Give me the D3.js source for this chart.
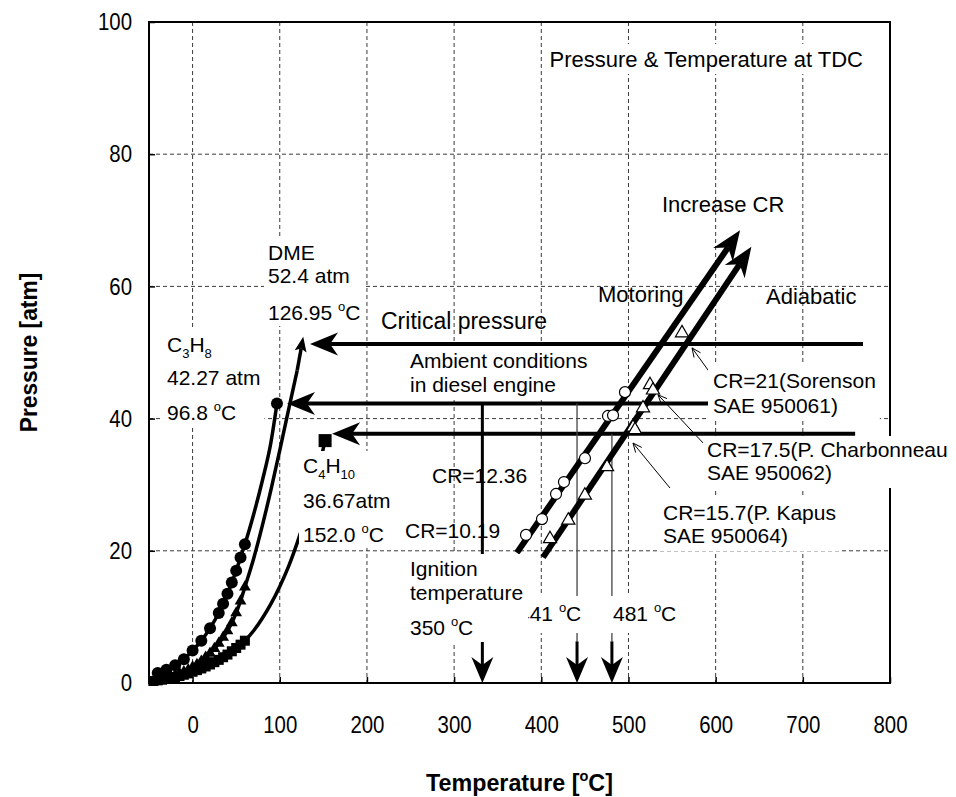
<!DOCTYPE html>
<html>
<head>
<meta charset="utf-8">
<script src="https://cdn.jsdelivr.net/npm/d3@7"></script>
<style>
  html, body { margin: 0; padding: 0; background: #fff; }
  svg { display: block; }
  text { white-space: pre; }
</style>
</head>
<body>
<svg id="chart" width="956" height="797"></svg>
<script>
// ---- axis ticks ----
const xTicks = [0, 100, 200, 300, 400, 500, 600, 700, 800];
const yTicks = [0, 20, 40, 60, 80, 100];

// ---- saturated vapour pressure curves (temperature °C, pressure atm) ----
// propane: points carrying markers, then the upper part of the curve
const c3h8MarkT = [-40, -30, -20, -10, 0, 10, 20, 30, 35, 40, 45, 50, 55, 60];
const c3h8MarkP = [1.5, 2.0, 2.7, 3.6, 4.9, 6.4, 8.3, 10.6, 12.0, 13.5, 15.2, 17.0, 19.0, 21.0];
const c3h8TailT = [70, 80, 90, 96.8];
const c3h8TailP = [25.5, 30.6, 36.5, 42.27];

// dimethyl ether
const dmeMarkT = [-40, -35, -30, -25, -20, -15, -10, -5, 0, 5, 10, 15, 20, 25, 30, 35, 40, 45, 50, 55, 60];
const dmeMarkP = [0.5, 0.65, 0.8, 1.0, 1.2, 1.45, 1.7, 2.0, 2.4, 2.8, 3.3, 3.9, 4.5, 5.2, 6.0, 6.9, 7.9, 9.1, 10.6, 12.4, 14.5];
const dmeTailT = [70, 80, 90, 100, 110, 120, 126.95];
const dmeTailP = [18.8, 23.8, 29.3, 35.2, 41.3, 47.3, 52.4];

// n-butane
const c4h10MarkT = [-45, -40, -35, -30, -25, -20, -15, -10, -5, 0, 5, 10, 15, 20, 25, 30, 35, 40, 45, 50, 55, 60];
const c4h10MarkP = [0.3, 0.4, 0.5, 0.6, 0.75, 0.9, 1.05, 1.25, 1.45, 1.7, 1.95, 2.2, 2.5, 2.8, 3.15, 3.5, 3.9, 4.3, 4.8, 5.3, 5.8, 6.4];
const c4h10TailT = [70, 80, 90, 100, 110, 120, 130, 140, 152.0];
const c4h10TailP = [7.9, 9.8, 12.0, 14.6, 17.6, 21.2, 25.3, 30.0, 36.67];

// critical points
const critNames = ["C3H8", "DME", "C4H10"];
const critT = [96.8, 126.95, 152.0];
const critP = [42.27, 52.4, 36.67];

// horizontal reference arrows (pressure, start temperature, arrow-tip temperature)
const refP     = [51.3, 42.27, 37.7];
const refFromT = [769, 769, 760];
const refTipT  = [134.7, 108.3, 160];

// compression temperature at TDC: motoring and adiabatic lines
const motorT = [372, 628];
const motorP = [19.7, 68.5];
const adiaT  = [402, 641];
const adiaP  = [19.0, 66.0];

// measured TDC states on the motoring line (open circles)
const motorMarkT = [382.5, 400.8, 416.9, 426.0, 450.1, 476.5, 482.3, 496.0];
const motorMarkP = [22.4, 24.8, 28.6, 30.4, 34.0, 40.4, 40.5, 44.0];
// states on the adiabatic line (open triangles)
const adiaMarkT = [410, 431, 450, 475.4, 505.2, 507.5, 516.7, 524.7, 528.1, 561.4];
const adiaMarkP = [21.8, 24.6, 28.4, 32.7, 38.7, 38.3, 41.6, 45.1, 44.3, 52.95];

// vertical temperature markers (°C) and the pressure they drop from
const ambientT = 332.4;        // ignition temperature arrow
const ambientTopP = 42.27;
const dropT = [441, 481];
const dropTopP = [42.27, 37.7];
const arrowStartP = 6.3;       // where the bold arrow part begins

// leader lines from the engine references to their points
const leaderFromT = [597.0, 587.8, 547.6];
const leaderFromP = [46.3, 36.0, 29.5];
const leaderToT   = [572.9, 533.9, 505.2];
const leaderToP   = [50.7, 43.6, 36.3];

// ---------------------------------------------------------------
const FONT = '"Liberation Sans", Arial, Helvetica, sans-serif';
const svg = d3.select("#chart").attr("font-family", FONT);

const x = d3.scaleLinear().domain([-50, 800]).range([149, 890]);
const y = d3.scaleLinear().domain([0, 100]).range([683, 22]);

const zip = (a, b) => a.map((v, i) => [v, b[i]]);
const TICK_SX = 0.85;   // axis numbers are set slightly narrow

// ---- grid ----
const grid = svg.append("g")
  .attr("stroke", "#3a3a3a").attr("stroke-width", 1).attr("stroke-dasharray", "4,3");
grid.selectAll("line.gv").data(xTicks.filter(t => t < 800)).join("line").attr("class", "gv")
  .attr("x1", d => x(d)).attr("x2", d => x(d)).attr("y1", y(100)).attr("y2", y(0));
grid.selectAll("line.gh").data(yTicks.filter(p => p > 0 && p < 100)).join("line").attr("class", "gh")
  .attr("x1", x(-50)).attr("x2", x(800)).attr("y1", d => y(d)).attr("y2", d => y(d));

// ---- axes ----
const xAxis = svg.append("g").attr("transform", `translate(0,${y(0)})`)
  .call(d3.axisBottom(x).tickValues(xTicks).tickSizeInner(-6).tickSizeOuter(0).tickPadding(33));
const yAxis = svg.append("g").attr("transform", `translate(${x(-50)},0)`)
  .call(d3.axisLeft(y).tickValues(yTicks).tickSizeInner(-6).tickSizeOuter(0).tickPadding(17 / TICK_SX));
[xAxis, yAxis].forEach(a => {
  a.select(".domain").remove();
  a.selectAll(".tick line").attr("stroke", "#000").attr("stroke-width", 1.5);
  a.selectAll(".tick text").attr("font-size", 24).attr("font-family", FONT).attr("fill", "#000")
    .attr("transform", `scale(${TICK_SX},1)`);
});

// plot frame
svg.append("rect")
  .attr("x", x(-50)).attr("y", y(100))
  .attr("width", x(800) - x(-50)).attr("height", y(0) - y(100))
  .attr("fill", "none").attr("stroke", "#000").attr("stroke-width", 2);

// axis titles
svg.append("text")
  .attr("transform", `translate(${(x(-50) + x(800)) / 2},791) scale(0.97,1)`)
  .attr("text-anchor", "middle").attr("font-size", 24).attr("font-weight", "bold")
  .call(t => {
    t.append("tspan").text("Temperature [");
    t.append("tspan").text("o").attr("font-size", 15).attr("dy", -10);
    t.append("tspan").text("C]").attr("dy", 10);
  });
svg.append("text")
  .attr("transform", `translate(37,${(y(0) + y(100)) / 2}) rotate(-90) scale(0.95,1)`)
  .attr("text-anchor", "middle").attr("font-size", 24).attr("font-weight", "bold")
  .text("Pressure [atm]");

// ---- helpers ----
function arrow(g, p1, p2, o) {
  const dx = p2[0] - p1[0], dy = p2[1] - p1[1];
  const L = Math.hypot(dx, dy), ux = dx / L, uy = dy / L, nx = -uy, ny = ux;
  const back = o.len - o.notch;
  g.append("line")
    .attr("x1", p1[0]).attr("y1", p1[1])
    .attr("x2", p2[0] - ux * back).attr("y2", p2[1] - uy * back)
    .attr("stroke", o.color || "#000").attr("stroke-width", o.w);
  const bl = [p2[0] - ux * o.len + nx * o.half, p2[1] - uy * o.len + ny * o.half];
  const br = [p2[0] - ux * o.len - nx * o.half, p2[1] - uy * o.len - ny * o.half];
  const nt = [p2[0] - ux * back, p2[1] - uy * back];
  g.append("path").attr("d", `M${p2}L${bl}L${nt}L${br}Z`).attr("fill", o.color || "#000");
}

function openArrow(g, p1, p2, len, half) {
  const dx = p2[0] - p1[0], dy = p2[1] - p1[1];
  const L = Math.hypot(dx, dy), ux = dx / L, uy = dy / L, nx = -uy, ny = ux;
  g.append("line").attr("x1", p1[0]).attr("y1", p1[1]).attr("x2", p2[0]).attr("y2", p2[1]);
  const bl = [p2[0] - ux * len + nx * half, p2[1] - uy * len + ny * half];
  const br = [p2[0] - ux * len - nx * half, p2[1] - uy * len - ny * half];
  g.append("path").attr("d", `M${bl}L${p2}L${br}`).attr("fill", "none");
}

function label(g, x0, lines, opts = {}) {
  const grp = g.append("g");
  const size = opts.size || 21;
  lines.forEach(ln => {
    const t = grp.append("text").attr("x", x0).attr("y", ln.y)
      .attr("font-size", size).attr("text-anchor", opts.anchor || "start").attr("fill", "#000");
    let shift = 0;
    ln.segs.forEach(s => {
      const seg = (typeof s === "string") ? { t: s } : s;
      const want = seg.sup ? -9 : seg.sub ? 6 : 0;
      const ts = t.append("tspan").text(seg.t).attr("dy", want - shift);
      if (seg.sup || seg.sub) ts.attr("font-size", Math.round(size * 0.64));
      shift = want;
    });
  });
  if (opts.box) {
    const b = grp.node().getBBox();
    const p = opts.pad || [3, 4, 2, 4];
    grp.insert("rect", ":first-child")
      .attr("x", b.x - p[3]).attr("y", b.y - p[0])
      .attr("width", b.width + p[1] + p[3]).attr("height", b.height + p[0] + p[2])
      .attr("fill", "#fff");
  }
  return grp;
}

// ---- vapour pressure curves ----
const line = d3.line().x(d => x(d[0])).y(d => y(d[1])).curve(d3.curveMonotoneX);
const curves = svg.append("g").attr("fill", "none").attr("stroke", "#000").attr("stroke-width", 3.5);

const c3h8Pts = zip(c3h8MarkT, c3h8MarkP).concat(zip(c3h8TailT, c3h8TailP));
const dmePts = zip(dmeMarkT, dmeMarkP).concat(zip(dmeTailT, dmeTailP));
const c4h10Pts = zip(c4h10MarkT, c4h10MarkP).concat(zip(c4h10TailT, c4h10TailP));

curves.append("path").attr("d", line(c3h8Pts));
curves.append("path").attr("d", line(c4h10Pts));
// DME curve ends in an arrow head at its critical point
curves.append("path").attr("d", line(dmePts.slice(0, -1)));
{
  const n = dmePts.length;
  arrow(svg, [x(dmePts[n - 2][0]), y(dmePts[n - 2][1])], [x(dmePts[n - 1][0]), y(dmePts[n - 1][1])],
        { len: 15, half: 6, notch: 3, w: 3.5 });
}

const marks = svg.append("g").attr("fill", "#000");
marks.selectAll("circle.c3").data(zip(c3h8MarkT, c3h8MarkP)).join("circle").attr("class", "c3")
  .attr("cx", d => x(d[0])).attr("cy", d => y(d[1])).attr("r", 6);
marks.selectAll("path.dme").data(zip(dmeMarkT, dmeMarkP)).join("path").attr("class", "dme")
  .attr("transform", d => `translate(${x(d[0])},${y(d[1])})`)
  .attr("d", d3.symbol(d3.symbolTriangle, 60));
marks.selectAll("rect.c4").data(zip(c4h10MarkT, c4h10MarkP)).join("rect").attr("class", "c4")
  .attr("x", d => x(d[0]) - 5).attr("y", d => y(d[1]) - 5).attr("width", 10).attr("height", 10);

// critical point markers
marks.append("circle").attr("cx", x(critT[0])).attr("cy", y(critP[0])).attr("r", 6);
marks.append("rect").attr("x", x(critT[2]) - 6.5).attr("y", y(critP[2]) - 6.5).attr("width", 13).attr("height", 13);

// ---- reference arrows ----
const refs = svg.append("g");
refP.forEach((p, i) => {
  arrow(refs, [x(refFromT[i]), y(p)], [x(refTipT[i]), y(p)], { len: 28, half: 11.5, notch: 8, w: 4 });
});
// ambient condition vertical line with ignition temperature arrow
arrow(refs, [x(ambientT), y(ambientTopP)], [x(ambientT), y(0)], { len: 26, half: 11, notch: 8, w: 3 });
refs.append("line").attr("x1", x(ambientT)).attr("x2", x(ambientT))
  .attr("y1", y(refP[0])).attr("y2", y(refP[0]) + 5).attr("stroke", "#000").attr("stroke-width", 3);
// 441 / 481 °C drop lines
dropT.forEach((t, i) => {
  refs.append("line").attr("x1", x(t)).attr("x2", x(t)).attr("y1", y(dropTopP[i])).attr("y2", y(arrowStartP))
    .attr("stroke", "#444").attr("stroke-width", 1.3);
  arrow(refs, [x(t), y(arrowStartP)], [x(t), y(0)], { len: 26, half: 11, notch: 8, w: 3 });
});

// ---- motoring / adiabatic lines ----
const tdc = svg.append("g");
arrow(tdc, [x(motorT[0]), y(motorP[0])], [x(motorT[1]), y(motorP[1])], { len: 30, half: 12, notch: 9, w: 6 });
arrow(tdc, [x(adiaT[0]), y(adiaP[0])], [x(adiaT[1]), y(adiaP[1])], { len: 30, half: 12, notch: 9, w: 6 });

tdc.selectAll("circle.mo").data(zip(motorMarkT, motorMarkP)).join("circle").attr("class", "mo")
  .attr("cx", d => x(d[0])).attr("cy", d => y(d[1])).attr("r", 5.5)
  .attr("fill", "#fff").attr("stroke", "#000").attr("stroke-width", 1.2);
tdc.selectAll("path.ad").data(zip(adiaMarkT, adiaMarkP)).join("path").attr("class", "ad")
  .attr("transform", d => `translate(${x(d[0])},${y(d[1])})`)
  .attr("d", d3.symbol(d3.symbolTriangle, 75))
  .attr("fill", "#fff").attr("stroke", "#000").attr("stroke-width", 1.2);

// leader lines
const leaders = svg.append("g").attr("stroke", "#000").attr("stroke-width", 1);
leaderFromT.forEach((t, i) => {
  openArrow(leaders, [x(t), y(leaderFromP[i])], [x(leaderToT[i]), y(leaderToP[i])], 9, 4);
});

// ---- annotations ----
const ann = svg.append("g");
label(ann, 863, [{ y: 67, segs: ["Pressure & Temperature at TDC"] }], { anchor: "end", box: true, size: 22 });

label(ann, 268, [
  { y: 260, segs: ["DME"] },
  { y: 283, segs: [critP[1] + " atm"] },
  { y: 320, segs: [critT[1] + " ", { t: "o", sup: true }, "C"] }
], { box: true });

label(ann, 167, [
  { y: 352, segs: ["C", { t: "3", sub: true }, "H", { t: "8", sub: true }] },
  { y: 385, segs: [critP[0] + " atm"] },
  { y: 420, segs: [critT[0] + " ", { t: "o", sup: true }, "C"] }
], { box: true });

label(ann, 303, [
  { y: 473, segs: ["C", { t: "4", sub: true }, "H", { t: "10", sub: true }] },
  { y: 508, segs: [critP[2] + "atm"] },
  { y: 542, segs: [critT[2].toFixed(1) + " ", { t: "o", sup: true }, "C"] }
], { box: true });

label(ann, 381, [{ y: 329, segs: ["Critical pressure"] }], { size: 23 });
label(ann, 410, [
  { y: 368, segs: ["Ambient conditions"] },
  { y: 392, segs: ["in diesel engine"] }
], { box: true, pad: [3, 5, 4, 5] });

label(ann, 432, [{ y: 483, segs: ["CR=12.36"] }]);
label(ann, 405, [{ y: 538, segs: ["CR=10.19"] }]);

label(ann, 518, [{ y: 621, segs: [dropT[0] + " ", { t: "o", sup: true }, "C"] }], { box: true, pad: [4, 3, 8, 3] });
label(ann, 613, [{ y: 621, segs: [dropT[1] + " ", { t: "o", sup: true }, "C"] }], { box: true, pad: [4, 3, 8, 3] });
label(ann, 410, [
  { y: 576, segs: ["Ignition"] },
  { y: 600, segs: ["temperature"] },
  { y: 635, segs: ["350 ", { t: "o", sup: true }, "C"] }
], { box: true, pad: [3, 5, 3, 5] });

label(ann, 662, [{ y: 212, segs: ["Increase CR"] }], { size: 22 });
label(ann, 598, [{ y: 302, segs: ["Motoring"] }], { size: 22 });
label(ann, 766, [{ y: 304, segs: ["Adiabatic"] }], { size: 22 });

label(ann, 713, [
  { y: 388, segs: ["CR=21(Sorenson"] },
  { y: 413, segs: ["SAE 950061)"] }
], { box: true, pad: [4, 4, 4, 5] });
label(ann, 707, [
  { y: 457, segs: ["CR=17.5(P. Charbonneau"] },
  { y: 480, segs: ["SAE 950062)"] }
], { box: true, pad: [2, 4, 4, 4] });
label(ann, 663, [
  { y: 520, segs: ["CR=15.7(P. Kapus"] },
  { y: 543, segs: ["SAE 950064)"] }
], { box: true, pad: [3, 4, 4, 4] });
</script>
</body>
</html>
